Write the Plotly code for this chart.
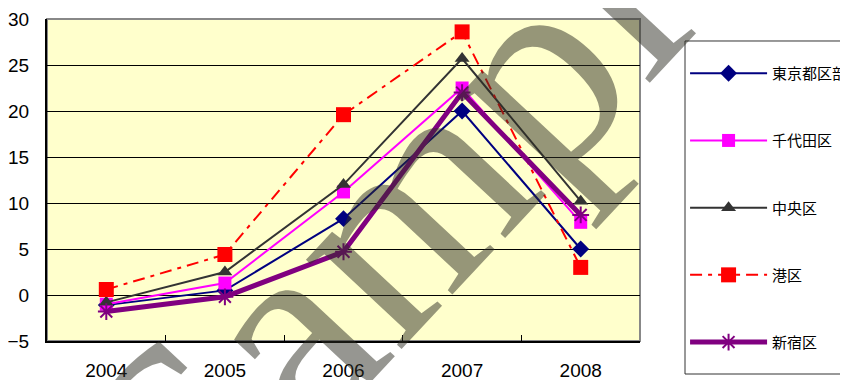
import plotly.graph_objects as go

years = ["2004", "2005", "2006", "2007", "2008"]
tokyo = [-1.1, 0.5, 8.3, 20.0, 5.0]
chiyoda = [-1.0, 1.3, 11.2, 22.5, 7.9]
chuo = [-0.8, 2.5, 12.0, 25.7, 10.2]
minato = [0.6, 4.4, 19.6, 28.6, 3.0]
shinjuku = [-1.8, -0.2, 4.7, 22.0, 8.7]

names = ["東京都区部", "千代田区", "中央区", "港区", "新宿区"]
y_ticks = [-5, 0, 5, 10, 15, 20, 25, 30]

fig = go.Figure()

fig.add_trace(go.Scatter(x=years, y=tokyo, name=names[0], mode="lines+markers",
                         line=dict(color="#000080", width=2),
                         marker=dict(symbol="diamond", size=13, color="#000080"),
                         legendgroup="a"))
fig.add_trace(go.Scatter(x=years, y=chiyoda, name=names[1], mode="lines+markers",
                         line=dict(color="#FF00FF", width=2),
                         marker=dict(symbol="square", size=13, color="#FF00FF"),
                         legendgroup="b"))
fig.add_trace(go.Scatter(x=years, y=chuo, name=names[2], mode="lines+markers",
                         line=dict(color="#333333", width=2),
                         marker=dict(symbol="triangle-up", size=13, color="#333333"),
                         legendgroup="c"))
fig.add_trace(go.Scatter(x=years, y=minato, name=names[3], mode="lines+markers",
                         line=dict(color="#FF0000", width=2, dash="12px,6px,4px,6px"),
                         marker=dict(symbol="square", size=15, color="#FF0000"),
                         legendgroup="d"))
fig.add_trace(go.Scatter(x=years, y=shinjuku, name=names[4], mode="lines+markers",
                         line=dict(color="#800080", width=5),
                         marker=dict(symbol="asterisk-open", size=14,
                                     line=dict(color="#5A005A", width=2)),
                         legendgroup="e"))

# plot frame (top/right grey edges)
fig.add_shape(type="rect", xref="paper", yref="paper", x0=0, x1=1, y0=0, y1=1,
              line=dict(color="#888888", width=2), layer="below")
# legend box
fig.add_shape(type="rect", xref="paper", yref="paper", x0=1.0759, x1=1.3676,
              y0=-0.1025, y1=0.9317, line=dict(color="#333333", width=1),
              fillcolor="white", layer="below")

# watermark
fig.add_annotation(text="Sample", xref="paper", yref="paper", x=0.636, y=0.488,
                   showarrow=False, textangle=-47,
                   font=dict(family="Liberation Serif", size=285, color="rgba(45,45,35,0.5)"))

fig.update_layout(
    width=840, height=372,
    margin=dict(l=39, r=208, t=11, b=39, autoexpand=False),
    paper_bgcolor="white",
    plot_bgcolor="#FFFFCC",
    font=dict(family="Liberation Sans, Arial, sans-serif", size=19, color="black"),
    showlegend=True,
    legend=dict(
        x=1.076, y=0.882, xanchor="left", yanchor="top",
        bgcolor="rgba(0,0,0,0)", borderwidth=0,
        font=dict(family="Noto Sans CJK JP", size=15, color="black"),
        tracegroupgap=44.7, itemwidth=77, entrywidth=150, maxheight=500,
    ),
)
fig.update_xaxes(type="category", range=[-0.5, 4.5], showline=True, linecolor="black",
                 linewidth=2, ticks="inside", ticklen=6, tickcolor="black",
                 tickson="boundaries", showgrid=False, ticklabelstandoff=11)
fig.update_yaxes(range=[-5, 30], tickvals=y_ticks, showline=True, linecolor="black",
                 linewidth=2, ticks="inside", ticklen=5, tickcolor="black",
                 showgrid=True, gridcolor="black", gridwidth=1, zeroline=False,
                 ticklabelstandoff=12)

fig.write_html("out.html")
